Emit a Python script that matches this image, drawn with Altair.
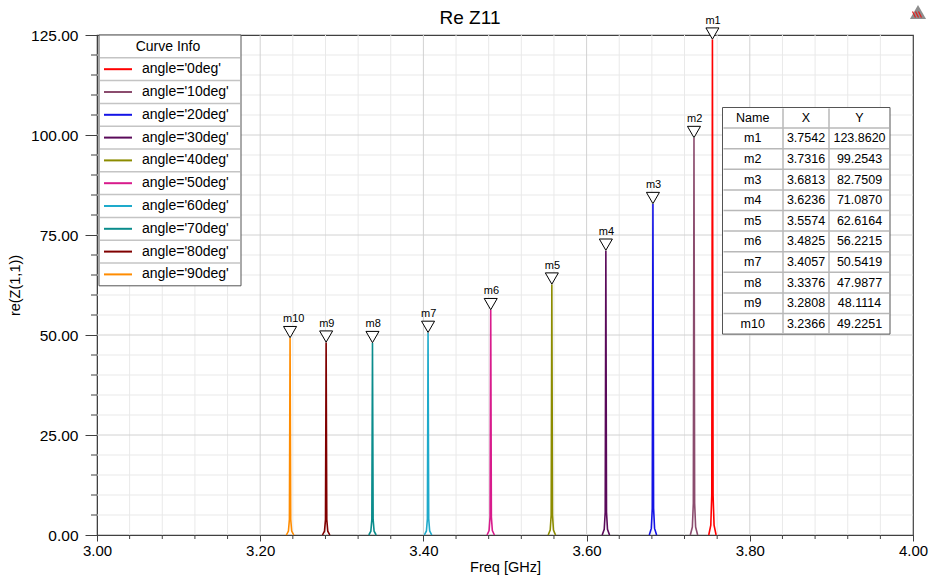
import altair as alt
import pandas as pd

# ---- data -------------------------------------------------------------
angles = ["0deg", "10deg", "20deg", "30deg", "40deg",
          "50deg", "60deg", "70deg", "80deg", "90deg"]
curve_colors = ["#FF0000", "#8B4C6E", "#1414E6", "#5A0A5A", "#8C8C00",
                "#D81B8C", "#1EAACB", "#0A8C8C", "#800000", "#FF8C00"]
marker_names = ["m1", "m2", "m3", "m4", "m5", "m6", "m7", "m8", "m9", "m10"]
peak_freq = [3.7542, 3.7316, 3.6813, 3.6236, 3.5574,
             3.4825, 3.4057, 3.3376, 3.2808, 3.2366]
peak_val = [123.8620, 99.2543, 82.7509, 71.0870, 62.6164,
            56.2215, 50.5419, 47.9877, 48.1114, 49.2251]

# resonance shape around each peak: offset from the peak [GHz], level relative to the peak
spike_offset = [-0.0045, -0.002, -0.0008, 0.0, 0.0008, 0.002, 0.0045]
spike_level = [0.0, 0.02, 0.08, 1.0, 0.08, 0.02, 0.0]

x_major = [3.0, 3.2, 3.4, 3.6, 3.8, 4.0]
x_minor = [3.04, 3.08, 3.12, 3.16, 3.24, 3.28, 3.32, 3.36, 3.44, 3.48,
           3.52, 3.56, 3.64, 3.68, 3.72, 3.76, 3.84, 3.88, 3.92, 3.96]
y_major = [0, 25, 50, 75, 100, 125]
y_minor = [5, 10, 15, 20, 30, 35, 40, 45, 55, 60, 65, 70,
           80, 85, 90, 95, 105, 110, 115, 120]

# ---- layout -----------------------------------------------------------
W, H = 816, 500
FONT = "Liberation Sans"
AXIS_C = "#404040"
MAJOR_GRID = "#D2D2D2"
MINOR_GRID = "#E9E9E9"

curve_rows = []
for a, f, v in zip(angles, peak_freq, peak_val):
    for off, lev in zip(spike_offset, spike_level):
        curve_rows.append({"angle": a, "freq": f + off, "val": v * lev})
curves = pd.DataFrame(curve_rows)
markers = pd.DataFrame({"name": marker_names, "freq": peak_freq, "val": peak_val})

xs = alt.Scale(domain=[3.0, 4.0], nice=False, zero=False)
ys = alt.Scale(domain=[0, 125], nice=False, zero=False)

x_axis = alt.Axis(values=x_major, format=".2f", grid=False, tickSize=6,
                  tickColor=AXIS_C, domainColor=AXIS_C, labelFontSize=15,
                  labelPadding=2, labelFlush=False, labelOverlap=False,
                  labelColor="#000", labelFont=FONT,
                  title="Freq [GHz]", titleFont=FONT, titleFontSize=14.5,
                  titleFontWeight="normal", titleY=32, titleBaseline="middle",
                  titleColor="#000")
y_axis = alt.Axis(values=y_major, format=".2f", grid=False, tickSize=12,
                  tickColor=AXIS_C, domainColor=AXIS_C, labelFontSize=15.5,
                  labelPadding=7, labelFlush=False, labelOverlap=False,
                  labelColor="#000", labelFont=FONT,
                  title="re(Z(1,1))", titleFont=FONT, titleFontSize=14.5,
                  titleFontWeight="normal", titleX=-82, titleY=H / 2,
                  titleAlign="center", titleBaseline="middle", titleColor="#000")

grid_x_minor = alt.Chart(pd.DataFrame({"v": x_minor})).mark_rule(
    color=MINOR_GRID, strokeWidth=1).encode(x=alt.X("v:Q", scale=xs, axis=x_axis))
grid_y_minor = alt.Chart(pd.DataFrame({"v": y_minor})).mark_rule(
    color=MINOR_GRID, strokeWidth=1).encode(y=alt.Y("v:Q", scale=ys, axis=y_axis))
grid_x_major = alt.Chart(pd.DataFrame({"v": x_major[1:-1]})).mark_rule(
    color=MAJOR_GRID, strokeWidth=1).encode(x=alt.X("v:Q", scale=xs))
grid_y_major = alt.Chart(pd.DataFrame({"v": y_major[1:-1]})).mark_rule(
    color=MAJOR_GRID, strokeWidth=1).encode(y=alt.Y("v:Q", scale=ys))

tick_x_minor = alt.Chart(pd.DataFrame({"v": x_minor})).mark_rule(
    color=AXIS_C, strokeWidth=1).encode(
    x=alt.X("v:Q", scale=xs), y=alt.value(H), y2=alt.value(H + 4))
tick_y_minor = alt.Chart(pd.DataFrame({"v": y_minor})).mark_rule(
    color=AXIS_C, strokeWidth=1).encode(
    y=alt.Y("v:Q", scale=ys), x=alt.value(-6), x2=alt.value(0))

lines = alt.Chart(curves).mark_line(strokeWidth=1.6, interpolate="linear").encode(
    x=alt.X("freq:Q", scale=xs),
    y=alt.Y("val:Q", scale=ys),
    color=alt.Color("angle:N", scale=alt.Scale(domain=angles, range=curve_colors),
                    legend=None),
    order=alt.Order("freq:Q"),
)

tri = alt.Chart(markers).mark_point(
    shape="triangle-down", filled=True, fill="white", stroke="#000",
    strokeWidth=1, size=170, opacity=1, yOffset=-6).encode(
    x=alt.X("freq:Q", scale=xs), y=alt.Y("val:Q", scale=ys))

mlabels = alt.Chart(markers).mark_text(
    align="left", baseline="alphabetic", dx=-7, dy=-16, fontSize=11,
    font=FONT, color="#000").encode(
    x=alt.X("freq:Q", scale=xs), y=alt.Y("val:Q", scale=ys), text="name:N")

main = alt.layer(grid_x_minor, grid_y_minor, grid_x_major, grid_y_major,
                 tick_x_minor, tick_y_minor, lines, tri, mlabels)

# ---- curve info box (pixel layout) -----------------------------------
PX = dict(scale=None, axis=None)
one = alt.Data(values=[{"k": 0}])

leg_l, leg_r, leg_t, leg_row = 2, 144, 0, 22.8
leg_b = leg_t + leg_row * (len(angles) + 1)

leg_box = alt.Chart(one).mark_rect(fill="white", stroke="#555555", strokeWidth=1).encode(
    x=alt.value(leg_l), x2=alt.value(leg_r), y=alt.value(leg_t), y2=alt.value(leg_b))
leg_sep = alt.Chart(pd.DataFrame({"y": [leg_t + leg_row * (i + 1) for i in range(len(angles))]})
                    ).mark_rule(color="#C4C4C4", strokeWidth=1.5).encode(
    y=alt.Y("y:Q", **PX), x=alt.value(leg_l + 1), x2=alt.value(leg_r - 1))
leg_items = pd.DataFrame({
    "y": [leg_t + leg_row * (i + 1.5) for i in range(len(angles))],
    "c": curve_colors,
    "t": [f"angle='{a}'" for a in angles],
})
leg_swatch = alt.Chart(leg_items).mark_rule(strokeWidth=2).encode(
    y=alt.Y("y:Q", **PX), x=alt.value(leg_l + 5), x2=alt.value(leg_l + 33),
    color=alt.Color("c:N", scale=None))
leg_text = alt.Chart(leg_items).mark_text(
    align="left", baseline="middle", fontSize=14, font=FONT, color="#000").encode(
    y=alt.Y("y:Q", **PX), x=alt.value(leg_l + 43), text="t:N")
leg_title = alt.Chart(one).mark_text(
    align="center", baseline="middle", fontSize=14, font=FONT, color="#000",
    text="Curve Info").encode(
    x=alt.value((leg_l + leg_r) / 2 - 2), y=alt.value(leg_t + leg_row / 2 + 1))

# ---- marker table (pixel layout) -------------------------------------
col_edges = [625.5, 686, 732, 793]
tab_t, tab_row = 72.5, 20.6
n_rows = len(marker_names) + 1
tab_b = tab_t + tab_row * n_rows

tab_box = alt.Chart(one).mark_rect(fill="white", stroke="#555555", strokeWidth=1).encode(
    x=alt.value(col_edges[0]), x2=alt.value(col_edges[-1]),
    y=alt.value(tab_t), y2=alt.value(tab_b))
tab_hsep = alt.Chart(pd.DataFrame({"y": [tab_t + tab_row * (i + 1) for i in range(n_rows - 1)]})
                     ).mark_rule(color="#B8B8B8", strokeWidth=1.5).encode(
    y=alt.Y("y:Q", **PX), x=alt.value(col_edges[0] + 1), x2=alt.value(col_edges[-1] - 1))
tab_vsep = alt.Chart(pd.DataFrame({"x": col_edges[1:-1]})).mark_rule(
    color="#B8B8B8", strokeWidth=1.5).encode(
    x=alt.X("x:Q", **PX), y=alt.value(tab_t + 1), y2=alt.value(tab_b - 1))

cells = []
centers = [(col_edges[i] + col_edges[i + 1]) / 2 for i in range(3)]
for j, head in enumerate(["Name", "X", "Y"]):
    cells.append({"x": centers[j], "y": tab_t + tab_row / 2, "t": head})
for i, (n, f, v) in enumerate(zip(marker_names, peak_freq, peak_val)):
    yc = tab_t + tab_row * (i + 1.5)
    cells.append({"x": centers[0], "y": yc, "t": n})
    cells.append({"x": centers[1], "y": yc, "t": f"{f:.4f}"})
    cells.append({"x": centers[2], "y": yc, "t": f"{v:.4f}"})
tab_text = alt.Chart(pd.DataFrame(cells)).mark_text(
    align="center", baseline="middle", fontSize=12.5, font=FONT, color="#000").encode(
    x=alt.X("x:Q", **PX), y=alt.Y("y:Q", **PX), text="t:N")

# ---- chart title and corner logo -------------------------------------
title_mark = alt.Chart(one).mark_text(
    align="center", baseline="alphabetic", fontSize=19, font=FONT, color="#000",
    text="Re Z11").encode(x=alt.value(373), y=alt.value(-11))
logo_tri = alt.Chart(one).mark_point(
    shape="triangle-up", filled=True, color="#8E8E8E", size=260, opacity=1).encode(
    x=alt.value(821), y=alt.value(-23))
logo_lines = alt.Chart(pd.DataFrame({
    "x": [815.5, 818.5, 821.5], "x2": [818.5, 821.5, 824.5],
    "y": [-23.5, -23.5, -23.5], "y2": [-17.5, -17.5, -17.5]})).mark_rule(
    color="#E02020", strokeWidth=1.3).encode(
    x=alt.X("x:Q", **PX), x2="x2:Q", y=alt.Y("y:Q", **PX), y2="y2:Q")

overlay = alt.layer(leg_box, leg_sep, leg_swatch, leg_text, leg_title,
                    tab_box, tab_hsep, tab_vsep, tab_text,
                    title_mark, logo_tri, logo_lines)

chart = alt.layer(main, overlay).resolve_scale(
    x="independent", y="independent", color="independent"
).properties(
    width=W, height=H,
    autosize=alt.AutoSizeParams(type="none"),
    padding={"left": 97, "top": 35, "right": 17, "bottom": 42},
    background="white",
).configure_view(stroke=AXIS_C, strokeWidth=1.2)

chart.save("out.html", embed_options={"renderer": "svg", "actions": False})
